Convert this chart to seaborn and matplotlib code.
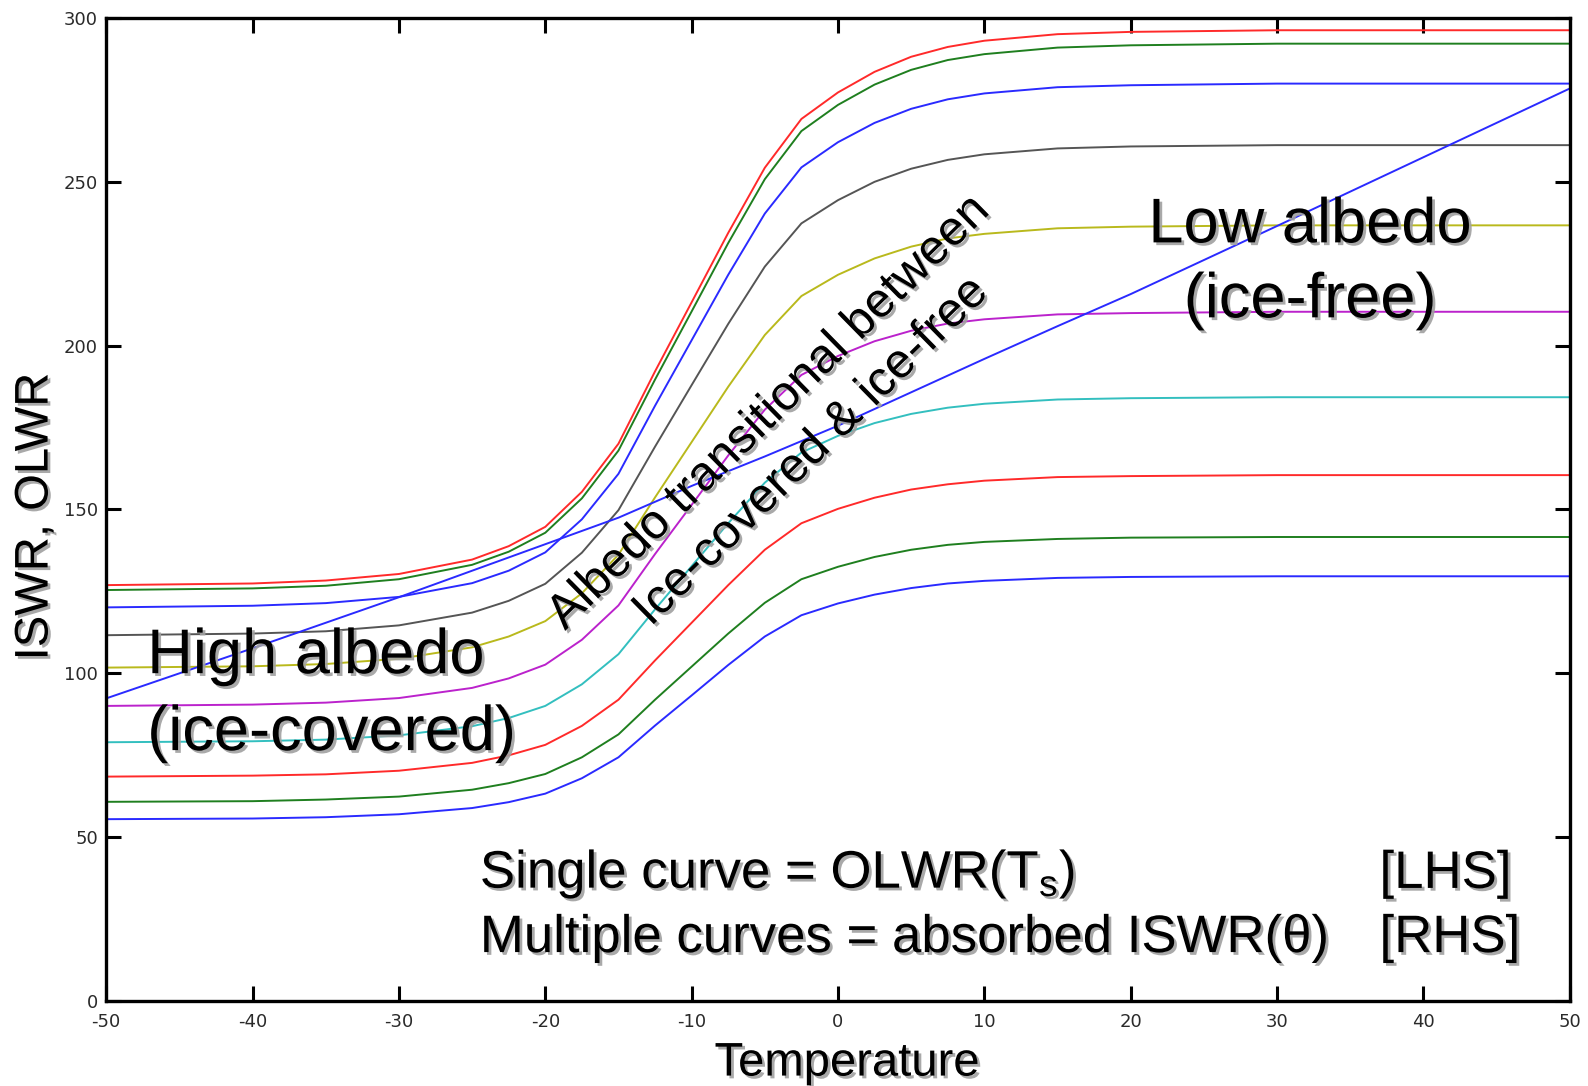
import numpy as np
import pandas as pd
import matplotlib
matplotlib.use("Agg")
import matplotlib.pyplot as plt
import matplotlib.patheffects as pe
import seaborn as sns

# ---------------- data ----------------
temps = [-50, -40, -35, -30, -25, -22.5, -20, -17.5, -15, -12.5, -10, -7.5,
         -5, -2.5, 0, 2.5, 5, 7.5, 10, 15, 20, 30, 40, 50]

iswr_1 = [126.9, 127.4, 128.3, 130.3, 134.7, 138.8, 144.7, 155.4, 170.1, 192.2, 213.3, 234.5,
          254.4, 269.3, 277.4, 283.7, 288.3, 291.3, 293.2, 295.2, 295.9, 296.4, 296.4, 296.4]
iswr_2 = [125.4, 125.9, 126.7, 128.7, 133.1, 137.1, 142.9, 153.4, 168.0, 189.7, 210.5, 231.4,
          250.9, 265.6, 273.6, 279.8, 284.3, 287.3, 289.1, 291.1, 291.8, 292.3, 292.3, 292.3]
iswr_3 = [120.1, 120.6, 121.4, 123.3, 127.5, 131.3, 136.9, 147.0, 160.9, 181.7, 201.7, 221.7,
          240.4, 254.5, 262.2, 268.1, 272.4, 275.3, 277.1, 279.0, 279.6, 280.1, 280.1, 280.1]
iswr_4 = [111.6, 112.1, 112.8, 114.6, 118.5, 122.1, 127.3, 136.8, 149.8, 169.2, 188.0, 206.7,
          224.2, 237.4, 244.5, 250.1, 254.1, 256.8, 258.5, 260.3, 260.9, 261.3, 261.3, 261.3]
iswr_5 = [101.7, 102.1, 102.8, 104.4, 107.9, 111.2, 115.9, 124.4, 136.2, 153.7, 170.6, 187.5,
          203.3, 215.2, 221.7, 226.7, 230.3, 232.8, 234.2, 235.9, 236.4, 236.8, 236.8, 236.8]
iswr_6 = [90.0, 90.4, 91.0, 92.4, 95.5, 98.4, 102.6, 110.2, 120.7, 136.4, 151.4, 166.5,
          180.5, 191.1, 196.9, 201.4, 204.6, 206.8, 208.1, 209.6, 210.0, 210.4, 210.4, 210.4]
iswr_7 = [78.9, 79.2, 79.7, 81.0, 83.8, 86.3, 90.0, 96.6, 105.8, 119.5, 132.7, 145.8,
          158.2, 167.4, 172.5, 176.4, 179.2, 181.1, 182.3, 183.6, 184.0, 184.3, 184.3, 184.3]
iswr_8 = [68.4, 68.7, 69.1, 70.2, 72.6, 74.9, 78.1, 83.9, 91.9, 103.9, 115.4, 126.9,
          137.7, 145.8, 150.2, 153.6, 156.1, 157.7, 158.8, 159.9, 160.2, 160.5, 160.5, 160.5]
iswr_9 = [60.7, 60.9, 61.4, 62.3, 64.4, 66.4, 69.2, 74.3, 81.3, 91.9, 102.0, 112.1,
          121.5, 128.7, 132.5, 135.5, 137.7, 139.2, 140.1, 141.0, 141.4, 141.6, 141.6, 141.6]
iswr_10 = [55.4, 55.6, 56.0, 56.9, 58.8, 60.6, 63.2, 67.9, 74.3, 84.0, 93.2, 102.5,
           111.2, 117.7, 121.3, 124.0, 126.0, 127.4, 128.2, 129.1, 129.4, 129.6, 129.6, 129.6]

olwr_temps = [-50, -40, -30, -20, -15, -10, -5, 0, 5, 10, 15, 20, 30, 40, 50]
olwr = [92.3, 107.6, 123.2, 139.4, 147.5, 157.2, 166.2, 175.6, 185.8, 196.0, 206.0, 215.8,
        236.6, 257.6, 278.6]

curve_names = ["ISWR 1", "ISWR 2", "ISWR 3", "ISWR 4", "ISWR 5", "ISWR 6", "ISWR 7",
               "ISWR 8", "ISWR 9", "ISWR 10"]
curve_values = [iswr_1, iswr_2, iswr_3, iswr_4, iswr_5, iswr_6, iswr_7, iswr_8, iswr_9, iswr_10]
curve_colors = ["#ff2a2a", "#1f7f1f", "#2a2aff", "#555555", "#b9b91c", "#bb22cc",
                "#33bfbf", "#ff2a2a", "#1f7f1f", "#2a2aff"]
olwr_color = "#2a2aff"

x_ticks = [-50, -40, -30, -20, -10, 0, 10, 20, 30, 40, 50]
y_ticks = [0, 50, 100, 150, 200, 250, 300]

# ---------------- style ----------------
sns.set_style("ticks")
plt.rcParams["font.family"] = ["Liberation Sans", "DejaVu Sans"]
plt.rcParams["mathtext.default"] = "regular"
plt.rcParams["text.color"] = "black"

fig = plt.figure(figsize=(15.88, 10.86), dpi=100)
ax = fig.add_axes([0.0669, 0.0787, 0.9885 - 0.0669, 0.9830 - 0.0787])

rows = []
for name, vals in zip(curve_names, curve_values):
    for t, v in zip(temps, vals):
        rows.append((name, t, v))
df = pd.DataFrame(rows, columns=["curve", "T", "W"])
sns.lineplot(data=df, x="T", y="W", hue="curve", hue_order=curve_names,
             palette=dict(zip(curve_names, curve_colors)), sort=False,
             estimator=None, legend=False, linewidth=1.4, ax=ax)

df_olwr = pd.DataFrame({"T": olwr_temps, "W": olwr})
sns.lineplot(data=df_olwr, x="T", y="W", color=olwr_color, linewidth=1.4,
             sort=False, estimator=None, ax=ax)

ax.set_xlim(-50, 50)
ax.set_ylim(0, 300)
ax.set_xticks(x_ticks)
ax.set_yticks(y_ticks)
ax.set_xticklabels([str(v) for v in x_ticks], family="DejaVu Sans", fontsize=13, color="#2a2a2a")
ax.set_yticklabels([str(v) for v in y_ticks], family="DejaVu Sans", fontsize=13, color="#2a2a2a")
ax.tick_params(axis="both", which="both", direction="in", length=11, width=2.2,
               top=True, right=True, color="black")
ax.tick_params(axis="x", pad=9)
ax.tick_params(axis="y", pad=6)
for s in ax.spines.values():
    s.set_visible(True)
    s.set_linewidth(2.4)
    s.set_color("black")
ax.set_xlabel("")
ax.set_ylabel("")

shadow = [pe.withSimplePatchShadow(offset=(2, -2), shadow_rgbFace="#a0a0a0", alpha=0.9)]
tkw = dict(color="black", path_effects=shadow)

fig.text(0.5334, 0.0096, "Temperature", ha="center", va="baseline", fontsize=34, **tkw)
fig.text(0.0224, 0.5244, "ISWR, OLWR", ha="center", va="center", rotation=90,
         fontsize=34, **tkw)

big = 45.5
ax.text(-47.2, 100.0, "High albedo", ha="left", va="baseline", fontsize=big, **tkw)
ax.text(-47.2, 76.5, "(ice-covered)", ha="left", va="baseline", fontsize=big, **tkw)
ax.text(32.25, 231.6, "Low albedo", ha="center", va="baseline", fontsize=big, **tkw)
ax.text(32.25, 208.7, "(ice-free)", ha="center", va="baseline", fontsize=big, **tkw)

ax.text(-4.1, 176.8, "Albedo transitional between", ha="center", va="baseline",
        rotation=44.5, rotation_mode="anchor", fontsize=35, **tkw)
ax.text(-1.2, 165.0, "Ice-covered & ice-free", ha="center", va="baseline",
        rotation=44.5, rotation_mode="anchor", fontsize=35, **tkw)

mid = 38
ax.text(-24.47, 34.4, "Single curve = OLWR(T$_{s}$)", ha="left", va="baseline",
        fontsize=mid, **tkw)
ax.text(-24.47, 14.8, "Multiple curves = absorbed ISWR(\u03b8)", ha="left", va="baseline",
        fontsize=mid, **tkw)
ax.text(37.0, 34.4, "[LHS]", ha="left", va="baseline", fontsize=mid, **tkw)
ax.text(37.0, 14.8, "[RHS]", ha="left", va="baseline", fontsize=mid, **tkw)

fig.savefig("out.png", dpi=100)
